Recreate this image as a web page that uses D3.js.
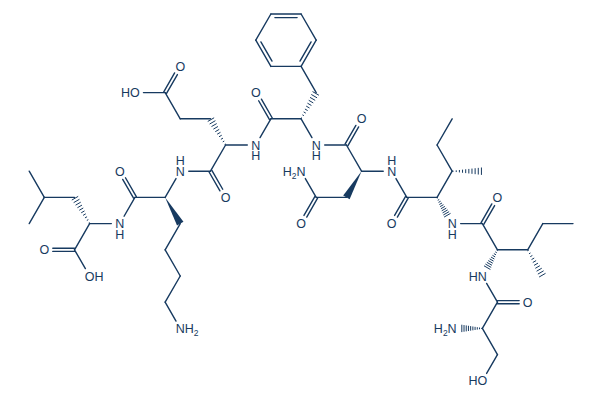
<!DOCTYPE html>
<html>
<head>
<meta charset="UTF-8">
<title>Peptide structure</title>
<script src="https://cdnjs.cloudflare.com/ajax/libs/d3/7.0.0/d3.min.js"></script>
<style>
  html, body { margin: 0; background: #fff; }
  svg { display: block; }
  text { font-family: "Liberation Sans", Arial, sans-serif; font-size: 12.5px; fill: #173a60; }
</style>
</head>
<body>
<svg id="mol" width="600" height="400"></svg>
<script>
// atoms sit on the drawing's hex lattice: column, row
const atomIds = [
  "me1","leuG","me2","leuB","leuA","leuC","leuO","leuOH","leuN","lysC0","lysO0",
  "lysA","lysB","lysG","lysD","lysE","lysNZ","lysN","lysC","lysO",
  "gluA","gluB","gluG","gluD","gluO","gluOH","gluN","gluC","gluO2",
  "pheA","pheB","r1","r2","r3","r4","r5","r6","pheN","pheC","pheO",
  "asnA","asnB","asnG","asnOD","asnND","asnN","asnC","asnO",
  "ileA","ileB","ileG","ileD","ileM","ileN","ileC","ileO",
  "il2A","il2B","il2G","il2D","il2M","il2N","il2C","il2O",
  "serA","serN","serB","serOH"
];
const atomCols = [
  0,1,0,3,4,3,1,4,6,7,6,
  9,10,9,10,9,10,10,12,13,
  13,12,10,9,10,7,15,16,15,
  18,19,18,16,15,16,18,19,19,21,22,
  22,21,19,18,18,24,25,24,
  27,28,27,28,30,28,30,31,
  31,33,34,36,34,30,31,33,
  30,28,31,30
];
const atomRows = [
  6,7,8,7,8,9,9,10,8,7,6,
  7,8,9,10,11,12,6,6,7,
  5,4,4,3,2,3,5,4,3,
  4,3,2,2,1,0,0,1,5,5,4,
  6,7,7,8,6,6,7,8,
  7,6,5,4,6,8,8,7,
  9,9,8,8,10,10,11,11,
  12,12,13,14
];
// heteroatom labels: [atom, element, hydrogens, side the hydrogens are written on]
const atomLabels = [
  ["leuO","O",0,""],["leuOH","O",1,"right"],["leuN","N",1,"below"],["lysO0","O",0,""],
  ["lysNZ","N",2,"right"],["lysN","N",1,"above"],["lysO","O",0,""],
  ["gluO","O",0,""],["gluOH","O",1,"left"],["gluN","N",1,"below"],["gluO2","O",0,""],
  ["pheN","N",1,"below"],["pheO","O",0,""],["asnOD","O",0,""],["asnND","N",2,"left"],
  ["asnN","N",1,"above"],["asnO","O",0,""],["ileN","N",1,"below"],["ileO","O",0,""],
  ["il2N","N",1,"left"],["il2O","O",0,""],["serN","N",2,"left"],["serOH","O",1,"left"]
];
const singleBonds = [
  ["me1","leuG"],["me2","leuG"],["leuG","leuB"],["leuA","leuC"],["leuC","leuOH"],["leuA","leuN"],
  ["leuN","lysC0"],["lysC0","lysA"],["lysA","lysN"],["lysB","lysG"],["lysG","lysD"],["lysD","lysE"],
  ["lysE","lysNZ"],["lysN","lysC"],["lysC","gluA"],["gluA","gluN"],["gluB","gluG"],["gluG","gluD"],
  ["gluD","gluOH"],["gluN","gluC"],["gluC","pheA"],["pheA","pheN"],["pheB","r1"],["r1","r2"],
  ["r3","r4"],["r5","r6"],["pheN","pheC"],["pheC","asnA"],["asnA","asnN"],["asnB","asnG"],
  ["asnG","asnND"],["asnN","asnC"],["asnC","ileA"],["ileA","ileB"],["ileB","ileG"],["ileG","ileD"],
  ["ileN","ileC"],["ileC","il2A"],["il2A","il2B"],["il2B","il2G"],["il2G","il2D"],
  ["il2N","il2C"],["il2C","serA"],["serA","serB"],["serB","serOH"]
];
// C=O bonds, two lines either side of the axis
const doubleBonds = [
  ["leuC","leuO"],["lysC0","lysO0"],["lysC","lysO"],["gluD","gluO"],["gluC","gluO2"],["pheC","pheO"],
  ["asnG","asnOD"],["asnC","asnO"],["ileC","ileO"],["il2C","il2O"]
];
// ring double bonds, second line toward the ring centre
const ringDoubles = [["r2","r3"],["r4","r5"],["r6","r1"]];
// stereo bonds, narrow end first
const wedgeBonds = [["lysA","lysB"],["asnA","asnB"]];
const hashBonds = [
  ["leuA","leuB"],["gluA","gluB"],["pheA","pheB"],["ileA","ileN"],["ileB","ileM"],
  ["il2A","il2N"],["il2B","il2M"],["serA","serN"]
];

const ink = "#173a60";
const svg = d3.select("#mol");
const x = d3.scaleLinear().domain([0, 36]).range([29.2, 573]);
const y = d3.scaleLinear().domain([0, 14]).range([14, 380.8]);

const atoms = new Map(atomIds.map((id, i) => [id, { id, x: x(atomCols[i]), y: y(atomRows[i]) }]));
const labelled = new Set(atomLabels.map(d => d[0]));
const ringCentre = { x: x(17), y: y(1) };
const line = d3.line();

// shorten a bond so it stops short of any atom label
function ends(a, b, gap = 8.5) {
  const p = atoms.get(a), q = atoms.get(b);
  const len = Math.hypot(q.x - p.x, q.y - p.y), ux = (q.x - p.x) / len, uy = (q.y - p.y) / len;
  const g0 = labelled.has(a) ? gap : 0, g1 = labelled.has(b) ? gap : 0;
  return { x0: p.x + ux * g0, y0: p.y + uy * g0, x1: q.x - ux * g1, y1: q.y - uy * g1, ux, uy, len: len - g0 - g1 };
}

const gBonds = svg.append("g").attr("fill", "none").attr("stroke", ink)
  .attr("stroke-width", 1.4).attr("stroke-linecap", "round");

gBonds.selectAll("path.single").data(singleBonds).join("path").attr("class", "single")
  .attr("d", d => { const e = ends(d[0], d[1]); return line([[e.x0, e.y0], [e.x1, e.y1]]); });

const doubleLines = doubleBonds.flatMap(d => [-1.6, 1.6].map(off => {
  const e = ends(d[0], d[1]);
  return [[e.x0 - e.uy * off, e.y0 + e.ux * off], [e.x1 - e.uy * off, e.y1 + e.ux * off]];
}));
gBonds.selectAll("path.double").data(doubleLines).join("path").attr("class", "double").attr("d", line);

gBonds.selectAll("path.ring").data(ringDoubles).join("path").attr("class", "ring").attr("d", d => {
  const e = ends(d[0], d[1]);
  return line([[e.x0, e.y0], [e.x1, e.y1]]);
});
gBonds.selectAll("path.ringin").data(ringDoubles).join("path").attr("class", "ringin").attr("d", d => {
  const e = ends(d[0], d[1]);
  const mx = (e.x0 + e.x1) / 2, my = (e.y0 + e.y1) / 2;
  const cl = Math.hypot(ringCentre.x - mx, ringCentre.y - my);
  const ox = (ringCentre.x - mx) / cl * 3.6, oy = (ringCentre.y - my) / cl * 3.6, s = 4;
  return line([[e.x0 + ox + e.ux * s, e.y0 + oy + e.uy * s], [e.x1 + ox - e.ux * s, e.y1 + oy - e.uy * s]]);
});

svg.append("g").attr("fill", ink).selectAll("path").data(wedgeBonds).join("path").attr("d", d => {
  const e = ends(d[0], d[1]), w = 3.7;
  return line([[e.x0, e.y0], [e.x1 - e.uy * w, e.y1 + e.ux * w], [e.x1 + e.uy * w, e.y1 - e.ux * w]]) + "Z";
});

const hashLines = hashBonds.flatMap(d => {
  const e = ends(d[0], d[1], 9);
  return d3.range(10).map(i => {
    const t = (i + 0.3) / 9.6, w = 0.4 + t * 3.4;
    const cx = e.x0 + e.ux * e.len * t, cy = e.y0 + e.uy * e.len * t;
    return [[cx - e.uy * w, cy + e.ux * w], [cx + e.uy * w, cy - e.ux * w]];
  });
});
svg.append("g").attr("fill", "none").attr("stroke", ink).attr("stroke-width", 1)
  .selectAll("path").data(hashLines).join("path").attr("d", line);

// atom labels
const halfEl = { N: 4.5, O: 4.9 };
const gText = svg.append("g");
atomLabels.forEach(([id, el, h, side]) => {
  const a = atoms.get(id), base = a.y + 4.5;
  const t = gText.append("text").attr("y", base);
  if (h === 0 || side === "above" || side === "below") {
    // stacked N / H stays one text element
    t.attr("text-anchor", "middle");
    if (side === "above") {
      t.append("tspan").attr("x", a.x).attr("y", base - 10.5).text("H");
      t.append("tspan").attr("x", a.x).attr("y", base).text(el);
    } else {
      t.append("tspan").attr("x", a.x).attr("y", base).text(el);
      if (h) t.append("tspan").attr("x", a.x).attr("y", base + 10.5).text("H");
    }
    return;
  }
  const sub = s => t.append("tspan").attr("dy", 3).style("font-size", "8.5px").text(s);
  if (side === "right") {
    t.attr("x", a.x - halfEl[el]).attr("text-anchor", "start");
    t.append("tspan").text(el + "H");
    if (h > 1) sub(h);
  } else {
    t.attr("x", a.x + halfEl[el]).attr("text-anchor", "end");
    t.append("tspan").text("H");
    if (h > 1) { sub(h); t.append("tspan").attr("dy", -3).text(el); }
    else t.append("tspan").text(el);
  }
});
</script>
</body>
</html>
